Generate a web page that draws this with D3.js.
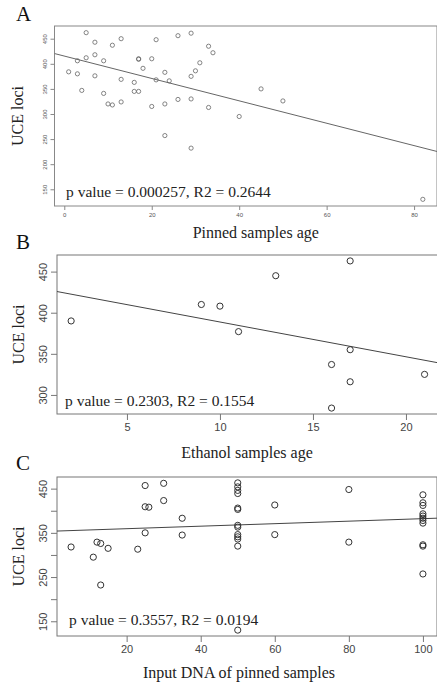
<!DOCTYPE html>
<html><head><meta charset="utf-8">
<script src="https://cdn.jsdelivr.net/npm/d3@7"></script>
<style>
html,body{margin:0;padding:0;background:#fff;}
svg{display:block;}
.serif{font-family:"Liberation Serif","DejaVu Serif","Times New Roman",serif;}
.sans{font-family:"Liberation Sans",Arial,"DejaVu Sans",sans-serif;}
</style></head>
<body>
<script>
// ---- Data ----
const aAge  = [1,5,3,3,4,5,7,7,7,9,9,10,11,11,13,13,13,16,16,17,17,17,18,20,20,21,21,23,23,23,24,26,26,29,29,29,29,30,31,33,34,33,45,50,40,82];
const aLoci = [384,462,406,380,347,412,443,418,376,406,341,320,437,318,450,369,324,363,345,410,409,345,391,410,315,448,368,383,320,257,366,456,329,461,375,330,232,386,402,435,422,313,350,326,295,130];
const aXTicks = [0,20,40,60,80];
const aYTicks = [150,200,250,300,350,400,450];
const aLine = {intercept: 415.4, slope: -2.23};
const aStat = "p value = 0.000257, R2 = 0.2644";

const bAge  = [2,9,10,11,13,16,16,17,17,17,21];
const bLoci = [390,410,408,377,445,337,284,463,355,316,325];
const bXTicks = [5,10,15,20];
const bYTicks = [300,350,400,450];
const bLine = {intercept: 431, slope: -4.23};
const bStat = "p value = 0.2303, R2 = 0.1554";

const cDNA  = [5,11,12,13,13,15,23,25,25,26,25,30,30,35,35,
               50,50,50,50,50,50,50,50,50,50,50,50,50,
               60,60,80,80,
               100,100,100,100,100,100,100,100,100,100,100];
const cLoci = [318,295,329,326,232,315,313,457,409,408,350,462,423,383,345,
               463,454,446,439,406,403,367,363,346,341,336,320,130,
               413,346,448,329,
               436,418,412,393,388,383,378,372,323,320,257];
const cXTicks = [20,40,60,80,100];
const cYTicks = [150,200,250,300,350,400,450];
const cYLabels = [150,250,350,450];
const cLine = {intercept: 353.7, slope: 0.284};
const cStat = "p value = 0.3557, R2 = 0.0194";

const W = 437, H = 683;
const svg = d3.select("body").append("svg").attr("width", W).attr("height", H);

function panel(cfg) {
  const x = d3.scaleLinear().domain(cfg.xDomain).range([cfg.left, cfg.right]);
  const y = d3.scaleLinear().domain(cfg.yDomain).range([cfg.bottom, cfg.top]);
  const g = svg.append("g");
  const clipId = "clip" + cfg.letter;
  svg.append("clipPath").attr("id", clipId).append("rect")
    .attr("x", cfg.left).attr("y", cfg.top)
    .attr("width", cfg.right - cfg.left).attr("height", cfg.bottom - cfg.top);

  const xAxis = d3.axisBottom(x).tickValues(cfg.xTicks).tickSize(cfg.tickLen).tickSizeOuter(0).tickPadding(cfg.xPad);
  const gx = g.append("g").attr("transform", `translate(0,${cfg.bottom})`).call(xAxis);
  gx.attr("font-family", null).attr("font-size", null);
  gx.select(".domain").remove();
  gx.selectAll("line").attr("stroke", cfg.boxColor);
  gx.selectAll("text").attr("class", "sans").style("font-size", cfg.tickFont + "px").attr("fill", cfg.tickColor);

  const yAxis = d3.axisLeft(y).tickValues(cfg.yTicks).tickSize(cfg.tickLen).tickSizeOuter(0)
    .tickFormat(d => (cfg.yLabels ? (cfg.yLabels.includes(d) ? d : "") : d));
  const gy = g.append("g").attr("transform", `translate(${cfg.left},0)`).call(yAxis);
  gy.attr("font-family", null).attr("font-size", null);
  gy.select(".domain").remove();
  gy.selectAll("line").attr("stroke", cfg.boxColor);
  gy.selectAll("text")
    .attr("class", "sans").style("font-size", cfg.tickFont + "px").attr("fill", cfg.tickColor)
    .attr("text-anchor", "middle").attr("dy", null).attr("x", null)
    .attr("transform", `translate(${-cfg.tickLen - cfg.yPad},0) rotate(-90)`);

  g.append("rect").attr("x", cfg.left).attr("y", cfg.top)
    .attr("width", cfg.right - cfg.left).attr("height", cfg.bottom - cfg.top)
    .attr("fill", "none").attr("stroke", cfg.boxColor).attr("stroke-width", 1);

  const xd = cfg.xDomain;
  g.append("line").attr("clip-path", `url(#${clipId})`)
    .attr("x1", x(xd[0])).attr("y1", y(cfg.line.intercept + cfg.line.slope * xd[0]))
    .attr("x2", x(xd[1])).attr("y2", y(cfg.line.intercept + cfg.line.slope * xd[1]))
    .attr("stroke", cfg.lineColor).attr("stroke-width", 1);

  g.append("g").selectAll("circle").data(cfg.xs.map((v, i) => [v, cfg.ys[i]]))
    .join("circle")
    .attr("cx", d => x(d[0])).attr("cy", d => y(d[1])).attr("r", cfg.r)
    .attr("fill", "none").attr("stroke", cfg.ptColor).attr("stroke-width", cfg.ptWidth);

  g.append("text").attr("class", "serif").attr("x", cfg.statX).attr("y", cfg.statY)
    .style("font-size", cfg.statFont + "px").attr("fill", "#222")
    .text(cfg.stat);

  g.append("text").attr("class", "serif").attr("x", (cfg.left + 437) / 2 + cfg.xTitleShift).attr("y", cfg.xTitleY)
    .attr("text-anchor", "middle").style("font-size", cfg.titleFont + "px").attr("fill", "#222")
    .text(cfg.xTitle);
  g.append("text").attr("class", "serif")
    .attr("transform", `translate(${cfg.yTitleX},${(cfg.top + cfg.bottom) / 2}) rotate(-90)`)
    .attr("text-anchor", "middle").style("font-size", cfg.titleFont + "px").attr("fill", "#222")
    .text("UCE loci");

  g.append("text").attr("class", "serif").attr("x", cfg.letterX).attr("y", cfg.letterY)
    .style("font-size", "21px").attr("fill", "#111")
    .text(cfg.letter);
}

panel({
  letter: "A", letterX: 16, letterY: 21,
  xs: aAge, ys: aLoci, xTicks: aXTicks, yTicks: aYTicks, line: aLine, stat: aStat,
  xDomain: [-2.24, 85.24], yDomain: [116.7, 475.3],
  left: 54.5, right: 437, top: 26, bottom: 206,
  tickLen: 4, tickFont: 6, xPad: 3, yPad: 4, tickColor: "#555", boxColor: "#888",
  lineColor: "#666", ptColor: "#666", ptWidth: 0.8, r: 2.1,
  statX: 66, statY: 197, statFont: 15.5,
  xTitle: "Pinned samples age", xTitleY: 238, xTitleShift: 10, titleFont: 16, yTitleX: 23
});

panel({
  letter: "B", letterX: 16, letterY: 249,
  xs: bAge, ys: bLoci, xTicks: bXTicks, yTicks: bYTicks, line: bLine, stat: bStat,
  xDomain: [1.24, 21.76], yDomain: [276.8, 470.2],
  left: 57, right: 438.7, top: 255, bottom: 414,
  tickLen: 6, tickFont: 11, xPad: 3, yPad: 4, tickColor: "#444", boxColor: "#777",
  lineColor: "#444", ptColor: "#333", ptWidth: 1, r: 3.1,
  statX: 65, statY: 406, statFont: 15.5,
  xTitle: "Ethanol samples age", xTitleY: 458, xTitleShift: 0, titleFont: 16, yTitleX: 24
});

panel({
  letter: "C", letterX: 16, letterY: 470,
  xs: cDNA, ys: cLoci, xTicks: cXTicks, yTicks: cYTicks, yLabels: cYLabels, line: cLine, stat: cStat,
  xDomain: [1.2, 103.8], yDomain: [116.7, 476.3],
  left: 57, right: 437, top: 477, bottom: 636,
  tickLen: 6, tickFont: 11, xPad: 3, yPad: 4, tickColor: "#444", boxColor: "#777",
  lineColor: "#444", ptColor: "#333", ptWidth: 1, r: 3.1,
  statX: 69, statY: 625, statFont: 15.5,
  xTitle: "Input DNA of pinned samples", xTitleY: 678, xTitleShift: -8, titleFont: 16, yTitleX: 24
});
</script>
</body></html>
